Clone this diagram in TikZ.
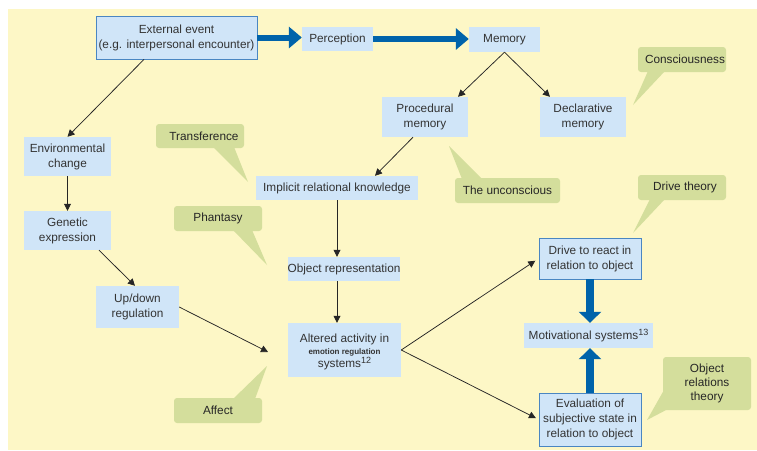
\documentclass[tikz,border=0pt]{standalone}
\usepackage{fontspec}
\setmainfont{Liberation Sans}
\usetikzlibrary{arrows.meta}
\definecolor{bgyellow}{RGB}{253,247,198}
\definecolor{boxblue}{RGB}{208,229,248}
\definecolor{edgeblue}{RGB}{74,134,194}
\definecolor{arrowblue}{RGB}{0,99,170}
\definecolor{calloutgreen}{RGB}{212,222,156}
\newcommand{\supnum}[1]{\raisebox{4.5pt}{\fontsize{9}{9}\selectfont #1}}
\tikzset{
  box/.style={fill=boxblue, inner sep=0pt, align=center, font=\fontsize{11.8}{15}\selectfont, text=black!80},
  bluebox/.style={box, draw=edgeblue, line width=0.8pt},
  callout/.style={fill=calloutgreen, rounded corners=3pt, inner sep=0pt, align=center, font=\fontsize{11.8}{14.5}\selectfont, text=black!85},
  thin/.style={-{Triangle[length=7pt,width=7pt]}, line width=0.75pt, black!85},
  thickh/.style={-{Triangle[length=13pt,width=21pt]}, line width=6pt, arrowblue},
  thickv/.style={-{Triangle[length=11pt,width=22pt]}, line width=8pt, arrowblue},
}
\begin{document}
\begin{tikzpicture}[x=1pt,y=-1pt]
\useasboundingbox (0,0) rectangle (757,450);
\fill[white] (0,0) rectangle (757,450);
\fill[bgyellow] (8,9) rectangle (757,450);

% boxes
\node[bluebox, minimum width=161pt, minimum height=43pt] (ext) at (176.5,37.5) {External event\\(e.g. interpersonal encounter)};
\node[box, minimum width=71pt, minimum height=24pt] (perc) at (337.5,39) {Perception};
\node[box, minimum width=71pt, minimum height=25pt] (mem) at (504.5,39.5) {Memory};
\node[box, minimum width=86pt, minimum height=40pt] (proc) at (425,117) {Procedural\\memory};
\node[box, minimum width=86pt, minimum height=40pt] (decl) at (583,117) {Declarative\\memory};
\node[box, minimum width=162pt, minimum height=24pt] (impl) at (337,188) {Implicit relational knowledge};
\node[box, minimum width=112pt, minimum height=24pt] (objrep) at (344,269) {Object representation};
\node[box, minimum width=87pt, minimum height=39pt] (env) at (67.5,156.5) {Environmental\\change};
\node[box, minimum width=87pt, minimum height=39pt] (gen) at (67.5,230.5) {Genetic\\expression};
\node[box, minimum width=83pt, minimum height=42pt] (updown) at (137.5,307) {Up/down\\regulation};
\node[box, minimum width=113pt, minimum height=54pt] (alt) at (344.5,350) {};
\node[align=center, inner sep=0pt, font=\fontsize{11.8}{15}\selectfont, text=black!80] (alttext) at ([yshift=-2pt]alt.center) {Altered activity in\\[-3pt]{\fontsize{8}{8.5}\selectfont\bfseries emotion regulation}\\[-2pt]systems\supnum{12}};
\node[bluebox, minimum width=102pt, minimum height=41pt] (drive) at (590,258.5) {Drive to react in\\relation to object};
\node[box, minimum width=129pt, minimum height=25pt] (motiv) at (588.5,335.5) {Motivational systems\supnum{13}};
\node[bluebox, minimum width=102pt, minimum height=53pt] (eval) at (590,419.5) {Evaluation of\\subjective state in\\relation to object};

% callouts
\coordinate (consctip) at (633,105);
\coordinate (transtip) at (248,182);
\coordinate (unctip) at (449,146);
\coordinate (phantip) at (267,265);
\coordinate (afftip) at (267,366);
\coordinate (drvtip) at (633,233);
\coordinate (orttip) at (647,420);
\fill[calloutgreen] (648,71) -- (consctip) -- (665,71) -- cycle;
\fill[calloutgreen] (213,147) -- (transtip) -- (234,147) -- cycle;
\fill[calloutgreen] (462,179) -- (unctip) -- (482,179) -- cycle;
\fill[calloutgreen] (233,230) -- (phantip) -- (252,230) -- cycle;
\fill[calloutgreen] (233,399) -- (afftip) -- (255,399) -- cycle;
\fill[calloutgreen] (650,199) -- (drvtip) -- (665,199) -- cycle;
\fill[calloutgreen] (664,390) -- (orttip) -- (668,409) -- cycle;
\node[callout, minimum width=88pt, minimum height=25pt] (consc) at (682,59.5) {\hspace*{6pt}Consciousness};
\node[callout, minimum width=88pt, minimum height=24pt] (trans) at (200,136) {\hspace*{8pt}Transference};
\node[callout, minimum width=105pt, minimum height=25pt] (unc) at (507.5,190.5) {The unconscious};
\node[callout, minimum width=88pt, minimum height=25pt] (phan) at (218,218.5) {Phantasy};
\node[callout, minimum width=88pt, minimum height=25pt] (aff) at (218,410.5) {Affect};
\node[callout, minimum width=88pt, minimum height=25pt] (drv) at (682,187.5) {\hspace*{6pt}Drive theory};
\node[callout, minimum width=88pt, minimum height=53pt, font=\fontsize{11.8}{14}\selectfont] (ort) at (707,383.5) {Object\\relations\\theory};

% thick arrows
\draw[thickh] (ext.east) -- (ext.east -| perc.west);
\draw[thickh] (perc.east) -- (perc.east -| mem.west);
\draw[thickv] (drive.south) -- (drive.south |- motiv.north);
\draw[thickv] (eval.north) -- (eval.north |- motiv.south);

% thin arrows
\coordinate (affpt) at (268,352);
\draw[thin] ([xshift=-32.5pt]ext.south) -- (env.north);
\draw[thin] (env.south) -- (gen.north);
\draw[thin] ([xshift=31.5pt]gen.south) -- ([xshift=-2.5pt]updown.north);
\draw[thin] (updown.east) -- (affpt);
\draw[thin] (mem.south) -- ([xshift=33pt]proc.north);
\draw[thin] (mem.south) -- ([xshift=-33pt]decl.north);
\draw[thin] ([xshift=-12pt]proc.south) -- ([xshift=38pt]impl.north);
\draw[thin] (impl.south) -- (impl.south |- objrep.north);
\draw[thin] (impl.south |- objrep.south) -- (impl.south |- alt.north);
\draw[thin, shorten >=4pt] (alt.east) -- (drive.west);
\draw[thin, shorten >=3pt] (alt.east) -- (eval.west);
\end{tikzpicture}
\end{document}
